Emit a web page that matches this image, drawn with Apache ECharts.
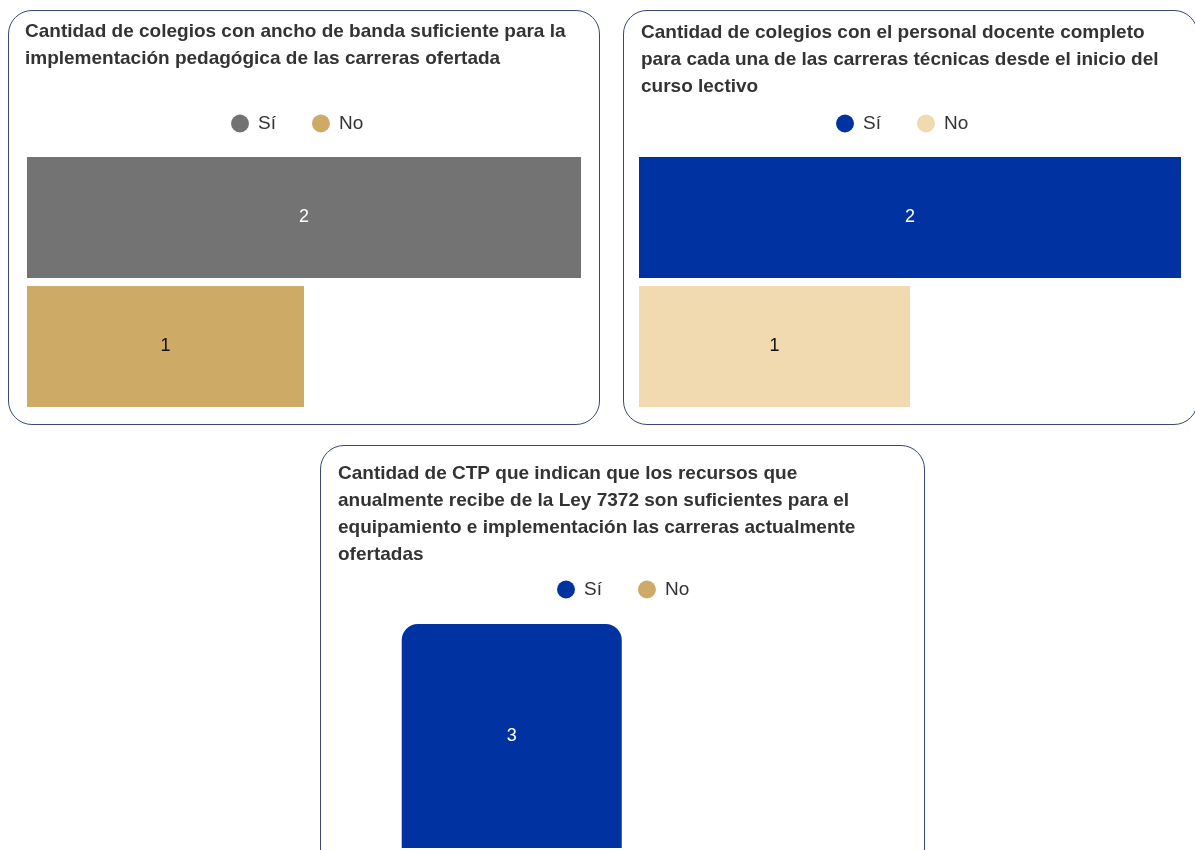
<!DOCTYPE html>
<html>
<head>
<meta charset="utf-8">
<script src="https://cdn.jsdelivr.net/npm/echarts@6/dist/echarts.min.js"></script>
<style>
  html, body { margin: 0; padding: 0; width: 1195px; height: 850px; overflow: hidden; background: #fff; }
  .panel { position: absolute; box-sizing: border-box; border: 1.5px solid #3b4877; border-radius: 24px; }
  .chart { position: absolute; }
</style>
</head>
<body>
<div class="panel" style="left:8px;top:10px;width:592px;height:415px;"></div>
<div class="panel" style="left:623px;top:10px;width:575px;height:415px;"></div>
<div class="panel" style="left:320px;top:445px;width:605px;height:450px;"></div>
<div id="c1" class="chart" style="left:8px;top:10px;width:592px;height:415px;"></div>
<div id="c2" class="chart" style="left:623px;top:10px;width:572px;height:415px;"></div>
<div id="c3" class="chart" style="left:320px;top:445px;width:605px;height:405px;"></div>
<script>
// ---- Data ----
const seriesNames = ['Sí', 'No'];
const anchoBanda = [2, 1];          // panel 1: Sí, No
const personalDocente = [2, 1];     // panel 2: Sí, No
const recursosLey = [3, 0];         // panel 3: Sí, No

const title1 = 'Cantidad de colegios con ancho de banda suficiente para la\nimplementación pedagógica de las carreras ofertada';
const title2 = 'Cantidad de colegios con el personal docente completo\npara cada una de las carreras técnicas desde el inicio del\ncurso lectivo';
const title3 = 'Cantidad de CTP que indican que los recursos que\nanualmente recibe de la Ley 7372 son suficientes para el\nequipamiento e implementación las carreras actualmente\nofertadas';

const colors1 = ['#737373', '#CEAA67'];
const colors2 = ['#0033A1', '#F2DAB0'];
const colors3 = ['#0033A1', '#CEAA67'];
const labelColors1 = ['#ffffff', '#111111'];
const labelColors2 = ['#ffffff', '#111111'];
const labelColors3 = ['#ffffff', '#111111'];

const FONT = 'Arial';

function titleOpt(text, left, top) {
  return {
    text: text, left: left, top: top, padding: 0,
    textStyle: { fontFamily: FONT, fontSize: 19, fontWeight: 'bold', lineHeight: 27, color: '#333333' }
  };
}
function legendOpt(left, top) {
  return {
    left: left, top: top, padding: 0,
    icon: 'circle', itemWidth: 18, itemHeight: 18, itemGap: 36,
    data: seriesNames,
    textStyle: { fontFamily: FONT, fontSize: 19, color: '#333333', padding: [0, 0, 0, 4] }
  };
}
function makeSeries(values, colors, labelColors, barWidth, radius) {
  return seriesNames.map(function (name, i) {
    return {
      name: name, type: 'bar',
      data: [values[i]],
      barWidth: barWidth, barGap: '6.6%',
      itemStyle: { color: colors[i], borderRadius: radius || 0 },
      label: {
        show: true, position: 'inside',
        fontFamily: FONT, fontSize: 18, color: labelColors[i],
        formatter: function (p) { return p.value === 0 ? '' : String(p.value); }
      },
      emphasis: { disabled: true }
    };
  });
}

// Panel 1
const chart1 = echarts.init(document.getElementById('c1'), null, { renderer: 'canvas' });
chart1.setOption({
  animation: false,
  title: titleOpt(title1, 17, 8),
  legend: legendOpt(223, 104),
  grid: { left: 19, top: 147, width: 554, height: 250, containLabel: false },
  xAxis: { type: 'value', min: 0, max: 2, show: false },
  yAxis: { type: 'category', data: [''], inverse: true, show: false },
  series: makeSeries(anchoBanda, colors1, labelColors1, 121)
});

// Panel 2
const chart2 = echarts.init(document.getElementById('c2'), null, { renderer: 'canvas' });
chart2.setOption({
  animation: false,
  title: titleOpt(title2, 18, 9),
  legend: legendOpt(213, 104),
  grid: { left: 16, top: 147, width: 542, height: 250, containLabel: false },
  xAxis: { type: 'value', min: 0, max: 2, show: false },
  yAxis: { type: 'category', data: [''], inverse: true, show: false },
  series: makeSeries(personalDocente, colors2, labelColors2, 121)
});

// Panel 3
const chart3 = echarts.init(document.getElementById('c3'), null, { renderer: 'canvas' });
chart3.setOption({
  animation: false,
  title: titleOpt(title3, 18, 15),
  legend: legendOpt(237, 135),
  grid: { left: 25, top: 179, width: 568, height: 224, containLabel: false },
  xAxis: { type: 'category', data: [''], show: false },
  yAxis: { type: 'value', min: 0, max: 3, show: false },
  series: makeSeries(recursosLey, colors3, labelColors3, 220, [16, 16, 0, 0])
});
</script>
</body>
</html>
